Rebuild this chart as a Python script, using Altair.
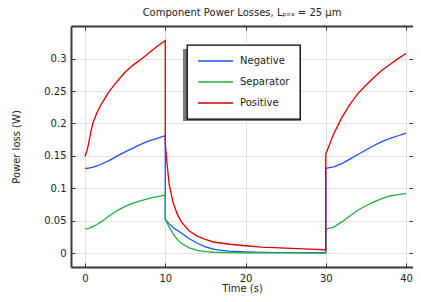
import altair as alt
import pandas as pd

series_names = ["Negative", "Separator", "Positive"]
series_colors = ["#1e4fff", "#22b03c", "#dd0000"]

neg_t = [0, 0.25, 0.5, 1, 1.5, 2, 3, 4, 5, 6, 7, 8, 9, 10,
         10, 10.5, 11, 12, 13, 14, 15, 16, 17, 18, 20, 22, 25, 30,
         30, 31, 32, 33, 34, 35, 36, 37, 38, 39, 40]
neg_v = [0.1307, 0.1308, 0.131, 0.1325, 0.1345, 0.137, 0.1425, 0.1495, 0.156, 0.162, 0.168, 0.173, 0.177, 0.181,
         0.052, 0.045, 0.039, 0.031, 0.022, 0.015, 0.0095, 0.006, 0.004, 0.003, 0.0018, 0.001, 0.0006, 0.0004,
         0.1307, 0.133, 0.138, 0.145, 0.152, 0.159, 0.166, 0.172, 0.177, 0.181, 0.185]

sep_t = [0, 0.5, 1, 1.5, 2, 3, 4, 5, 6, 7, 8, 9, 10,
         10, 10.5, 11, 11.5, 12, 13, 14, 15, 16, 18, 20, 25, 30,
         30, 31, 32, 33, 34, 35, 36, 37, 38, 39, 40]
sep_v = [0.037, 0.038, 0.041, 0.044, 0.048, 0.057, 0.0655, 0.072, 0.077, 0.081, 0.0845, 0.087, 0.0895,
         0.052, 0.040, 0.029, 0.021, 0.015, 0.008, 0.0042, 0.0022, 0.0012, 0.0005, 0.0003, 0.0002, 0.0001,
         0.037, 0.040, 0.048, 0.057, 0.066, 0.073, 0.079, 0.084, 0.088, 0.090, 0.092]

pos_t = [0, 0.25, 0.5, 0.75, 1, 1.5, 2, 3, 4, 5, 6, 7, 8, 9, 10,
         10, 10.2, 10.5, 11, 11.5, 12, 13, 14, 15, 16, 18, 20, 22, 25, 28, 30,
         30, 30.3, 31, 32, 33, 34, 35, 36, 37, 38, 39, 40]
pos_v = [0.149, 0.158, 0.172, 0.188, 0.201, 0.217, 0.229, 0.249, 0.265, 0.279, 0.290, 0.299, 0.309, 0.319, 0.328,
         0.17, 0.14, 0.105, 0.077, 0.06, 0.048, 0.034, 0.026, 0.021, 0.017, 0.0135, 0.0112, 0.0092, 0.0074, 0.006, 0.005,
         0.153, 0.162, 0.184, 0.209, 0.229, 0.246, 0.259, 0.271, 0.282, 0.291, 0.300, 0.308]

x_ticks = [0, 10, 20, 30, 40]
y_ticks = [0, 0.05, 0.1, 0.15, 0.2, 0.25, 0.3]

rows = []
idx = 0
for name, ts, vs in zip(series_names, [neg_t, sep_t, pos_t], [neg_v, sep_v, pos_v]):
    for t, v in zip(ts, vs):
        rows.append({"series": name, "t": t, "v": v, "idx": idx})
        idx += 1
df = pd.DataFrame(rows)

FONT = "DejaVu Sans"
TXT = "#222222"
FRAME = "#3a3a3a"

xscale = alt.Scale(domain=[-1.745, 40.87], nice=False, zero=False)
yscale = alt.Scale(domain=[-0.0216, 0.3504], nice=False, zero=False)

lines = alt.Chart(df).mark_line(strokeWidth=1.3).encode(
    x=alt.X("t:Q", scale=xscale, title="Time (s)",
            axis=alt.Axis(orient="bottom", values=x_ticks, offset=-4, tickSize=4, domain=False,
                          grid=True, labelPadding=6, titlePadding=0)),
    y=alt.Y("v:Q", scale=yscale, title="Power loss (W)",
            axis=alt.Axis(orient="left", values=y_ticks, offset=-4, tickSize=4, domain=False,
                          grid=True, labelPadding=5, format="~g", titlePadding=22)),
    color=alt.Color("series:N",
                    scale=alt.Scale(domain=series_names, range=series_colors),
                    legend=alt.Legend(title=None, orient="none", legendX=116, legendY=19,
                                      symbolType="stroke", symbolSize=1225, symbolStrokeWidth=1.3,
                                      clipHeight=12, rowPadding=9, labelOffset=6, padding=10,
                                      fillColor="white", strokeColor="black")),
    order="idx:Q",
)

tick_axes = alt.Chart(df).mark_point(opacity=0).encode(
    x=alt.X("t:Q", scale=xscale, title=None,
            axis=alt.Axis(orient="top", values=x_ticks, offset=-4, tickSize=4, domain=False,
                          grid=False, labels=False)),
    y=alt.Y("v:Q", scale=yscale, title=None,
            axis=alt.Axis(orient="right", values=y_ticks, offset=-4, tickSize=4, domain=False,
                          grid=False, labels=False)),
)

frame_lb = alt.Chart(df).mark_point(opacity=0).encode(
    x=alt.X("t:Q", scale=xscale, title=None,
            axis=alt.Axis(orient="bottom", ticks=False, labels=False, grid=False, domain=True,
                          domainColor=FRAME, domainWidth=2)),
    y=alt.Y("v:Q", scale=yscale, title=None,
            axis=alt.Axis(orient="left", ticks=False, labels=False, grid=False, domain=True,
                          domainColor=FRAME, domainWidth=2)),
)

frame_t = alt.Chart(df).mark_point(opacity=0).encode(
    x=alt.X("t:Q", scale=xscale, title=None,
            axis=alt.Axis(orient="top", ticks=False, labels=False, grid=False, domain=True,
                          domainColor=FRAME, domainWidth=2)),
    y=alt.Y("v:Q", scale=yscale, axis=None),
)

shadow = alt.Chart(alt.Data(values=[{}])).mark_rect(color="#7a7a7a").encode(
    x=alt.value(112), x2=alt.value(230), y=alt.value(23), y2=alt.value(95)
)

chart = alt.layer(shadow, lines, tick_axes, frame_lb, frame_t).resolve_axis(
    x="independent", y="independent"
).properties(
    width=342, height=241,
    padding={"left": 63, "top": 18, "right": 0, "bottom": 27},
    autosize="none",
    title=alt.TitleParams(text="Component Power Losses, Lₚₒₛ = 25 µm", font=FONT, fontSize=10,
                          fontWeight="normal", color=TXT, anchor="middle", offset=8),
).configure_view(stroke=None).configure_axis(
    labelFont=FONT, titleFont=FONT, labelFontSize=10, titleFontSize=10,
    labelColor=TXT, titleColor=TXT, titleFontWeight="normal",
    tickColor="#333333", tickWidth=1, gridColor="#e3e3e3", gridWidth=1,
).configure_legend(labelFont=FONT, labelFontSize=10, labelColor=TXT, strokeWidth=1.3)

chart.save("out.html", embed_options={"renderer": "svg", "actions": False})
